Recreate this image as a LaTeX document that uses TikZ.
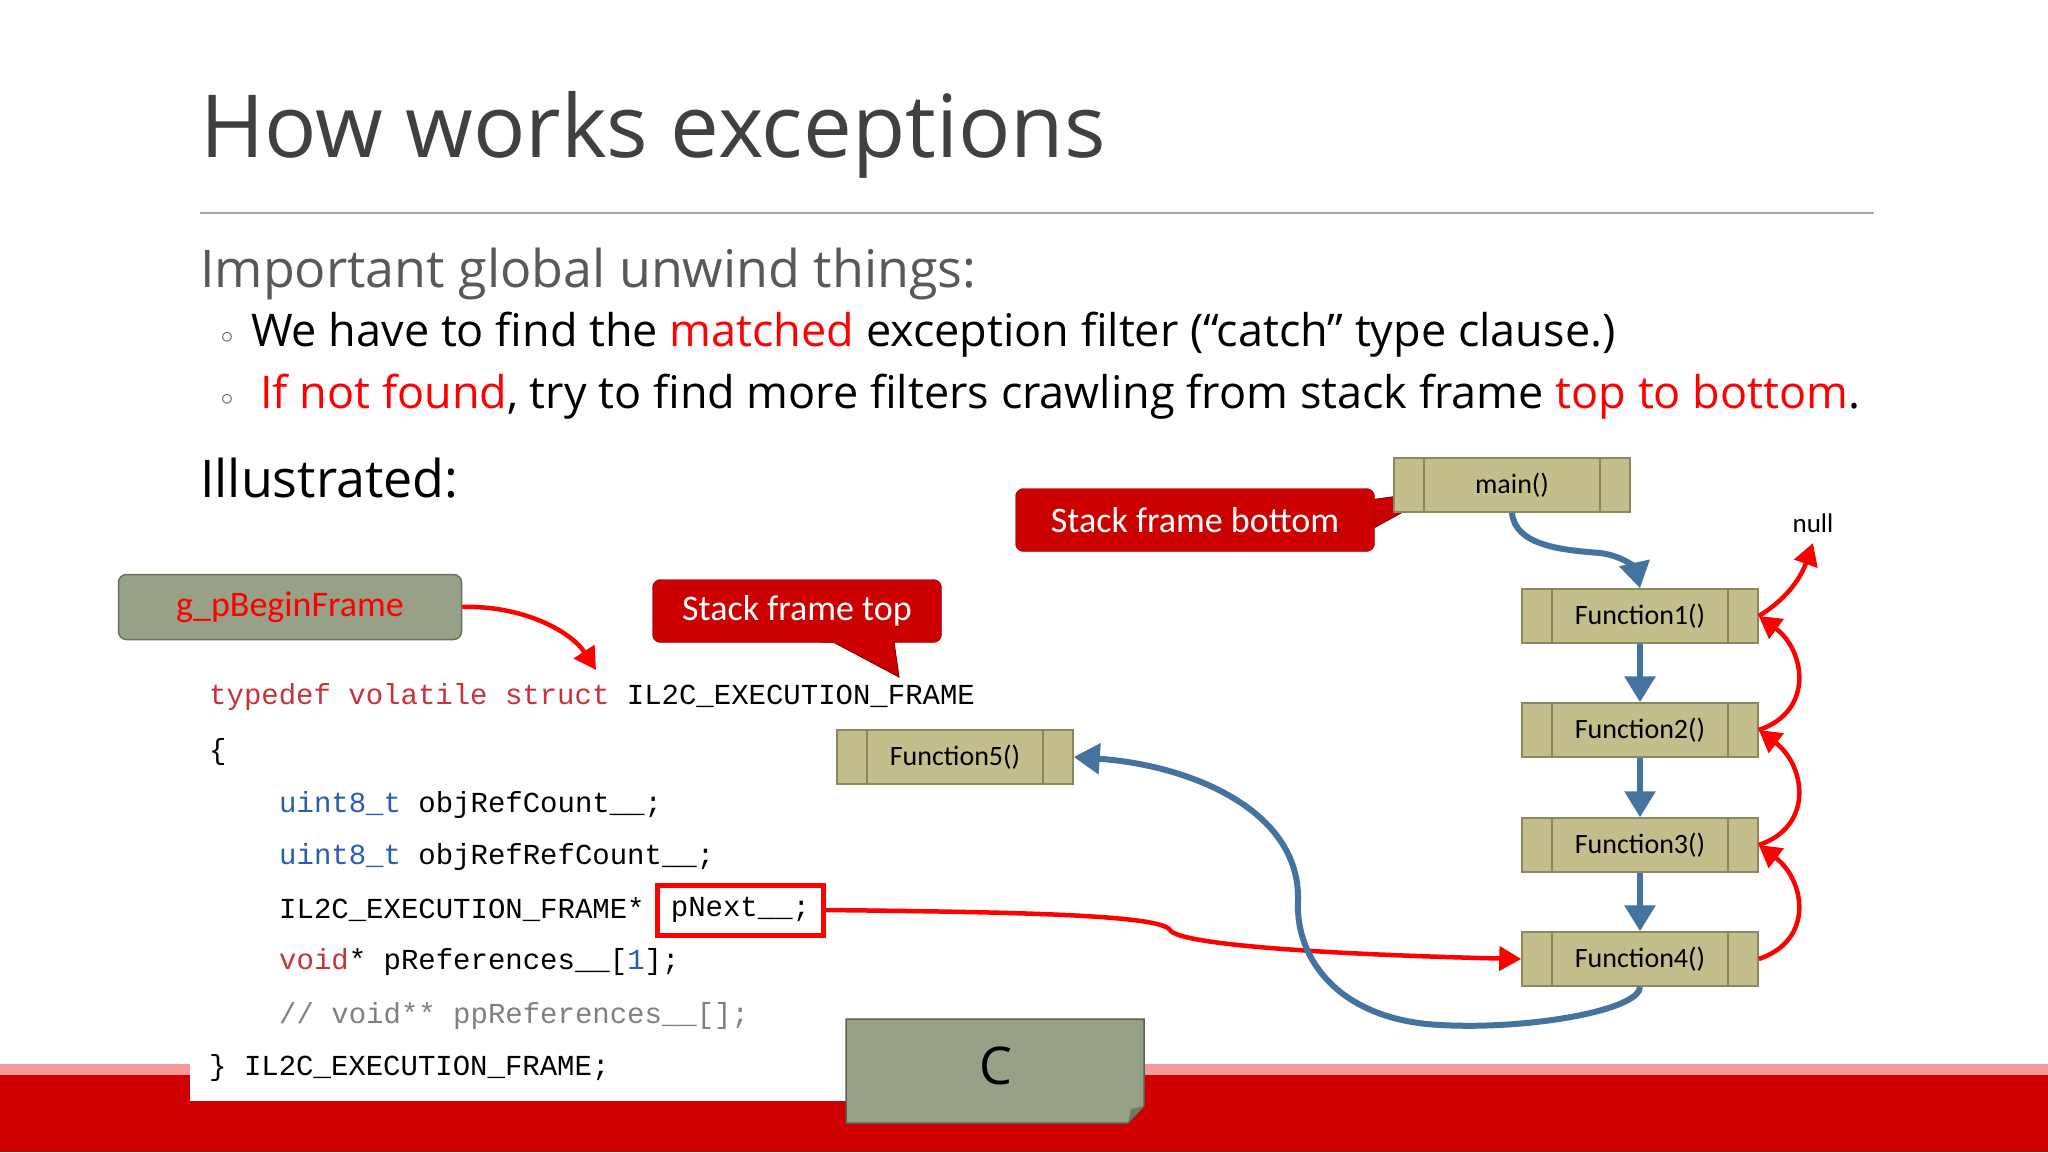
\documentclass[tikz,border=0pt]{standalone}
\usepackage{fontspec}
\setmainfont{Open Sans}
\newfontfamily\calib{Carlito}
\newfontfamily\codef{Liberation Mono}
\usetikzlibrary{arrows.meta}
\definecolor{slidered}{HTML}{D00000}
\definecolor{lightred}{HTML}{F59A9A}
\definecolor{titlegray}{HTML}{404040}
\definecolor{subgray}{HTML}{595959}
\definecolor{fbox}{HTML}{C4BD8C}
\definecolor{fboxline}{HTML}{8C8760}
\definecolor{grnbox}{HTML}{97A187}
\definecolor{arrowblue}{HTML}{44749D}
\definecolor{kwred}{HTML}{C8323C}
\definecolor{tyblue}{HTML}{2A5DB0}
\definecolor{cmtgray}{HTML}{808080}
\definecolor{calloutred}{HTML}{CC0000}
\definecolor{brightred}{HTML}{FF0000}
\tikzset{
  funcbox/.style={draw=fboxline,line width=1.5pt,fill=fbox,minimum width=236pt,minimum height=54pt,
    font=\calib\fontsize{28}{30}\selectfont,text=black,
    path picture={\draw[fboxline,line width=1.5pt]([xshift=30pt]path picture bounding box.north west)--([xshift=30pt]path picture bounding box.south west);
      \draw[fboxline,line width=1.5pt]([xshift=-30pt]path picture bounding box.north east)--([xshift=-30pt]path picture bounding box.south east);}},
  codeline/.style={anchor=west,inner sep=0pt,font=\codef\fontsize{29}{32}\selectfont},
  bluearr/.style={arrowblue,line width=6pt,-{Triangle[width=30pt,length=26pt]}},
  redarr/.style={brightred,line width=4.5pt,-{Triangle[width=24pt,length=22pt]}},
  callbox/.style={rectangle,fill=calloutred,draw=calloutred!70!black,rounded corners=8pt,text=white,
    font=\calib\fontsize{36}{40}\selectfont,inner sep=0pt},
}
\begin{document}
\begin{tikzpicture}[x=1pt,y=-1pt]
\useasboundingbox (0,0) rectangle (2048,1152);
\fill[white] (0,0) rectangle (2048,1152);
% bottom band
\fill[lightred] (0,1064) rectangle (2048,1075);
\fill[slidered] (0,1075) rectangle (2048,1152);
\fill[white] (190,1040) rectangle (848,1101);
% title
\node[anchor=base west,inner sep=0pt,text=titlegray,font=\fontsize{87}{100}\selectfont] (title) at (200,157) {How works exceptions};
\draw[gray!70,line width=1.5pt] (200,213) -- (1874,213);
\node[anchor=base west,inner sep=0pt,text=subgray,font=\fontsize{52}{60}\selectfont] (sub) at (200,287) {Important global unwind things:};
\node[anchor=base,inner sep=0pt,text=subgray,font=\fontsize{40}{40}\selectfont] (b1) at (227,343) {$\circ$};
\node[anchor=base west,inner sep=0pt,font=\fontsize{45}{50}\selectfont] (l1) at (251,346) {We have to find the \textcolor{brightred}{matched} exception filter (“catch” type clause.)};
\node[anchor=base,inner sep=0pt,text=subgray,font=\fontsize{40}{40}\selectfont] (b2) at (227,405) {$\circ$};
\node[anchor=base west,inner sep=0pt,font=\fontsize{45}{50}\selectfont] (l2) at (260,408) {\textcolor{brightred}{If not found}, try to find more filters crawling from stack frame \textcolor{brightred}{top to bottom}.};
\node[anchor=base west,inner sep=0pt,font=\fontsize{52}{60}\selectfont] (ill) at (200,497) {Illustrated:};
% code
\node[codeline] (c1) at (209,697) {\textcolor{kwred}{typedef volatile struct} IL2C\_EXECUTION\_FRAME};
\node[codeline] (c2) at (209,752) {\{};
\node[codeline] (c3) at (279,805) {\textcolor{tyblue}{uint8\_t} objRefCount\_\_;};
\node[codeline] (c4) at (279,857) {\textcolor{tyblue}{uint8\_t} objRefRefCount\_\_;};
\node[codeline] (c5) at (279,910) {IL2C\_EXECUTION\_FRAME*};
\node[codeline] (c6) at (279,962) {\textcolor{kwred}{void}* pReferences\_\_[\textcolor{tyblue}{1}];};
\node[codeline] (c7) at (279,1016) {\textcolor{cmtgray}{// void** ppReferences\_\_[];}};
\node[codeline] (c8) at (209,1068) {\} IL2C\_EXECUTION\_FRAME;};
\node[draw=brightred,line width=5pt,anchor=west,minimum width=166pt,minimum height=50pt,inner sep=0pt,
  font=\codef\fontsize{29}{32}\selectfont] (pn) at (655,910) {pNext\_\_;};
% boxes
\node[draw=grnbox!70!black,line width=1.5pt,fill=grnbox,rounded corners=8pt,minimum width=343pt,minimum height=65pt,
  text=brightred,font=\calib\fontsize{36}{40}\selectfont] (gp) at (290,607) {g\_pBeginFrame};
% callouts
\coordinate (tipA) at (899,677);
\fill[calloutred,draw=calloutred!70!black,line width=1pt] (820,635) -- (tipA) -- (893,635) -- cycle;
\node[callbox,minimum width=289pt,minimum height=63pt] (sft) at (797,611) {Stack frame top};
\fill[calloutred] (821,640) rectangle (892,643);
\coordinate (tipB) at (1443,490);
\fill[calloutred,draw=calloutred!70!black,line width=1pt] (1370,500) -- (tipB) -- (1370,530) -- cycle;
\node[callbox,minimum width=359pt,minimum height=63pt] (sfb) at (1195,520) {Stack frame bottom};
\fill[calloutred] (1366,501) rectangle (1373,528);
\node[funcbox] (m) at (1512,485) {main()};
\node[funcbox] (f1) at (1640,616) {Function1()};
\node[funcbox] (f2) at (1640,730) {Function2()};
\node[funcbox] (f3) at (1640,845) {Function3()};
\node[funcbox] (f4) at (1640,959) {Function4()};
\node[funcbox] (f5) at (955,757) {Function5()};
\node[font=\calib\fontsize{27}{30}\selectfont,inner sep=0pt] (null) at (1813,523) {null};
\coordinate (nulltip) at (1813,543);
% C box with folded corner
\fill[grnbox,draw=grnbox!60!black,line width=1.5pt] (846,1019) -- (1144,1019) -- (1144,1106) -- (1128,1123) -- (846,1123) -- cycle;
\fill[grnbox!75!black] (1144,1106) -- (1131,1109) -- (1128,1123) -- cycle;
\node[font=\fontsize{52}{56}\selectfont,inner sep=0pt] (cl) at (996,1066) {C};
% connectors
\draw[redarr] (gp.east) .. controls (520,605) and (570,630) .. (596,670);
\draw[redarr] (pn.east) .. controls (1000,912) and (1160,914) .. (1170,930) .. controls (1180,946) and (1350,955) .. (f4.west);
\draw[bluearr] (m.south) .. controls (1515,545) and (1560,550) .. (1600,553) .. controls (1625,556) and (1636,570) .. (f1.north);
\draw[bluearr] (f1.south) -- (f2.north);
\draw[bluearr] (f2.south) -- (f3.north);
\draw[bluearr] (f3.south) -- (f4.north);
\draw[bluearr] (f4.south) .. controls (1640,1010) and (1530,1030) .. (1440,1025) .. controls (1340,1020) and (1295,960) .. (1298,900) .. controls (1300,810) and (1190,765) .. (f5.east);
\draw[redarr] (f4.east) .. controls (1815,940) and (1805,880) .. (f3.east);
\draw[redarr] (f3.east) .. controls (1815,826) and (1805,765) .. (f2.east);
\draw[redarr] (f2.east) .. controls (1815,711) and (1805,650) .. (f1.east);
\draw[redarr] (f1.east) .. controls (1785,600) and (1800,580) .. (nulltip);
\end{tikzpicture}
\end{document}
